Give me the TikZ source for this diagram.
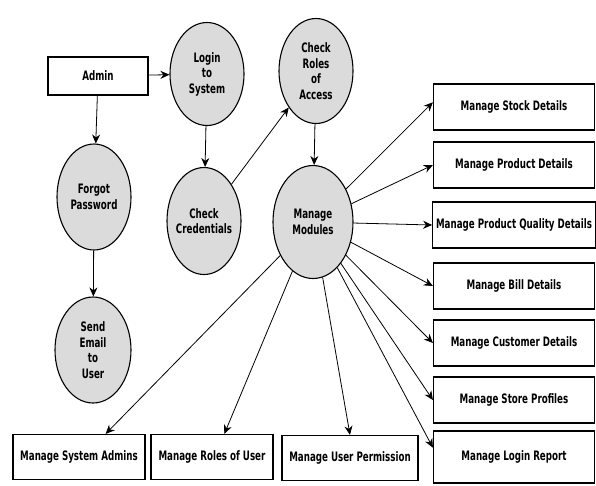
\documentclass[tikz,border=0pt]{standalone}
\usepackage{fontspec}
\setmainfont{DejaVu Sans}[FakeStretch=0.67]
\usetikzlibrary{arrows.meta, calc, positioning, shapes.geometric}
\tikzset{
    process/.style ={ellipse, draw, fill=black!14, line width=1.1pt,
                     minimum width=74pt, minimum height=105pt, align=center,
                     inner sep=0pt, inner xsep=-3pt},
    entity/.style ={rectangle, draw, line width=1.2pt, minimum height=46pt},
    outbox/.style ={entity, minimum width=161pt},
    flow/.style = {-{Stealth[length=9pt,width=8pt]}, line width=0.8pt}
    }

\begin{document}
\begin{tikzpicture}[
      x=1pt, y=-1pt, % pixel-like units, y going down
      font=\fontsize{13}{15.5}\selectfont\bfseries
    ]
    \useasboundingbox (0,0) rectangle (596,485);

    \node[entity, minimum width=100pt, minimum height=38pt] (admin) at (98,76) {Admin};
    \node[process, minimum height=103pt] (login) at (207,74) {Login\\to\\System};
    \node[process] (roles) at (316,71) {Check\\Roles\\of\\Access};

    \node[process, minimum height=106pt] (forgot) at (94,197) {Forgot\\Password};
    \node[process, minimum height=107pt] (cred) at (204,221) {Check\\Credentials};
    \node[process, minimum width=80pt, minimum height=113pt] (modules) at (313,222) {Manage\\Modules};
    \node[process, minimum width=76pt, minimum height=106pt] (email) at (93,350) {Send\\Email\\to\\User};

    % modules on the right
    \node[outbox] (stock) at (514,107) {Manage Stock Details};
    \node[outbox] (product) at (514,165) {Manage Product Details};
    \node[outbox] (quality) at (514,225) {Manage Product Quality Details};
    \node[outbox] (bill) at (514,286) {Manage Bill Details};
    \node[outbox] (customer) at (514,343) {Manage Customer Details};
    \node[outbox] (store) at (514,400) {Manage Store Profiles};
    \node[outbox, minimum height=52pt] (report) at (514,457) {Manage Login Report};

    % modules at the bottom
    \node[entity, minimum width=132pt, minimum height=45pt] (sysadm) at (79,457) {Manage System Admins};
    \node[entity, minimum width=122pt, minimum height=45pt] (userroles) at (212,457) {Manage Roles of User};
    \node[entity, minimum width=136pt, minimum height=45pt] (perm) at (350,458) {Manage User Permission};

    \draw[flow] (admin) -- (login);
    \draw[flow] (admin) -- (forgot);
    \draw[flow] (forgot) -- (email);
    \draw[flow] (login) -- (cred);
    \draw[flow] (cred) -- (roles);
    \draw[flow] (roles) -- (modules);

    \draw[flow] (modules) -- ($(stock.west)!0.2!(stock.north west)$);
    \draw[flow] (modules) -- (product.west);
    \draw[flow] (modules) -- (quality.west);
    \draw[flow] (modules) -- (bill.west);
    \draw[flow] (modules) -- (customer.west);
    \draw[flow] (modules) -- (store.west);
    \draw[flow] (modules) -- ($(report.west)!0.35!(report.north west)$);

    \draw[flow] (modules) -- ($(sysadm.north)!0.4!(sysadm.north east)$);
    \draw[flow] (modules) -- ($(userroles.north)!0.2!(userroles.north east)$);
    \draw[flow] (modules) -- (perm.north);
\end{tikzpicture}
\end{document}
